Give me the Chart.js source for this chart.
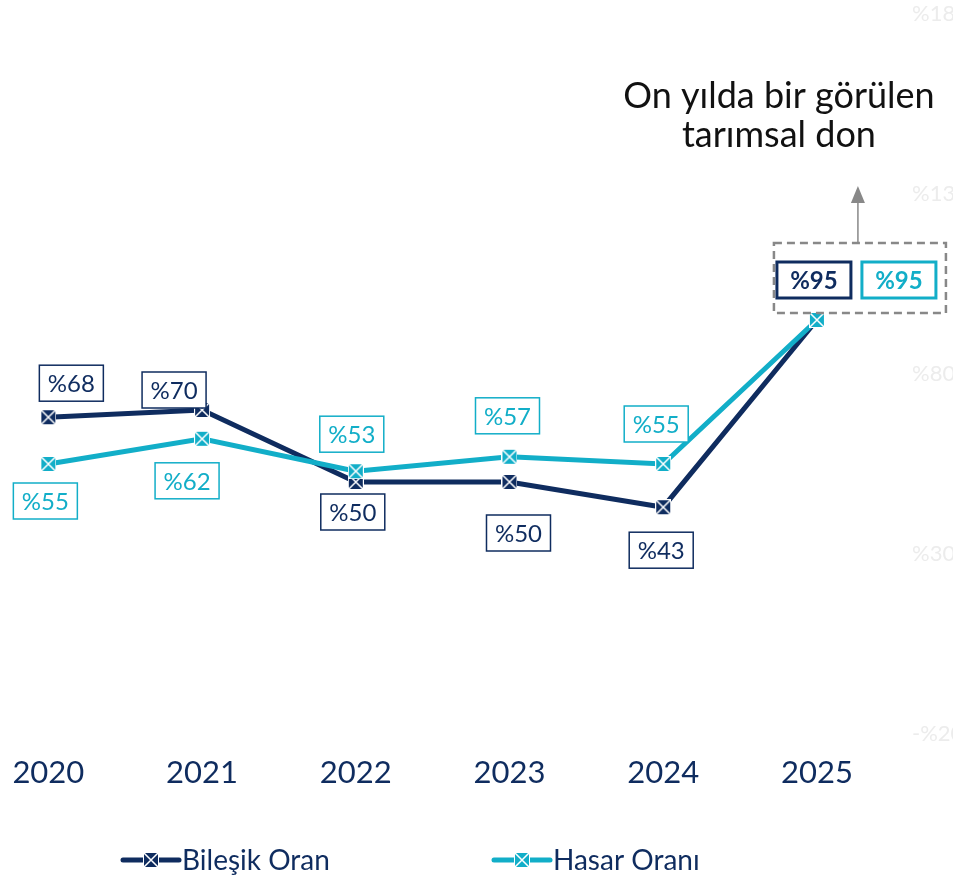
<!DOCTYPE html>
<html>
<head>
<meta charset="utf-8">
<script src="https://cdn.jsdelivr.net/npm/chart.js@4.4.1/dist/chart.umd.min.js"></script>
<style>
  html, body { margin: 0; padding: 0; background: #fff; }
</style>
</head>
<body>
<canvas id="chart" width="953" height="877"></canvas>
<script>
const years = [2020, 2021, 2022, 2023, 2024, 2025];
const bilesikOran = [68, 70, 50, 50, 43, 95];
const hasarOrani = [55, 62, 53, 57, 55, 95];
const yTicks = [-20, 30, 80, 130, 180];
const noteLines = ["On yılda bir görülen", "tarımsal don"];
const seriesNames = ["Bileşik Oran", "Hasar Oranı"];

const NAVY = "#0f2c5f";
const CYAN = "#12aec8";
const FONT = "Lato, 'Noto Sans', sans-serif";

// where each value box sits, relative to its point (px)
const navyOffsets = [[23, -34], [-28, -20], [-3, 30], [9, 51], [-2, 43], [-3, -40]];
const cyanOffsets = [[-3, 37], [-15, 42], [-4, -37], [-2, -41], [-7, -40], [82, -40]];

function marker(color) {
  const c = document.createElement("canvas");
  c.width = 16; c.height = 16;
  const g = c.getContext("2d");
  g.fillStyle = color;
  g.fillRect(0, 0, 16, 16);
  g.strokeStyle = "#fff";
  g.lineWidth = 1;
  g.strokeRect(0.5, 0.5, 15, 15);
  g.lineWidth = 1.5;
  g.beginPath();
  g.moveTo(1, 1); g.lineTo(15, 15);
  g.moveTo(15, 1); g.lineTo(1, 15);
  g.stroke();
  return c;
}

const navyMarker = marker(NAVY);
const cyanMarker = marker(CYAN);

// value boxes
const boxLabels = {
  id: "boxLabels",
  afterDatasetsDraw(chart) {
    const ctx = chart.ctx;
    ctx.save();
    chart.data.datasets.forEach((ds, i) => {
      const meta = chart.getDatasetMeta(i);
      meta.data.forEach((pt, j) => {
        const off = ds.labelOffsets[j];
        const last = j === ds.data.length - 1;
        const cx = pt.x + off[0];
        const cy = pt.y + off[1];
        const w = last ? 74 : 64;
        const h = 36;
        ctx.fillStyle = "#fff";
        ctx.fillRect(cx - w / 2, cy - h / 2, w, h);
        ctx.strokeStyle = ds.borderColor;
        ctx.lineWidth = last ? 3 : 1.5;
        ctx.strokeRect(cx - w / 2, cy - h / 2, w, h);
        ctx.fillStyle = ds.borderColor;
        ctx.font = (last ? "bold " : "") + "24px " + FONT;
        ctx.textAlign = "center";
        ctx.textBaseline = "middle";
        ctx.fillText("%" + ds.data[j].y, cx, cy + 1);
      });
    });
    ctx.restore();
  }
};

// dashed box, arrow and note over 2025
const note = {
  id: "note",
  afterDraw(chart) {
    const ctx = chart.ctx;
    const pt = chart.getDatasetMeta(0).data[years.length - 1];
    ctx.save();
    ctx.strokeStyle = "#888";
    ctx.lineWidth = 2.5;
    ctx.setLineDash([8, 5]);
    ctx.strokeRect(pt.x - 43, pt.y - 77, 172, 70);
    ctx.setLineDash([]);
    const ax = pt.x + 41;
    ctx.lineWidth = 1.5;
    ctx.beginPath();
    ctx.moveTo(ax, pt.y - 77);
    ctx.lineTo(ax, pt.y - 118);
    ctx.stroke();
    ctx.fillStyle = "#888";
    ctx.beginPath();
    ctx.moveTo(ax, pt.y - 134);
    ctx.lineTo(ax - 7, pt.y - 117);
    ctx.lineTo(ax + 7, pt.y - 117);
    ctx.closePath();
    ctx.fill();
    ctx.fillStyle = "#111";
    ctx.font = "36px " + FONT;
    ctx.textAlign = "center";
    ctx.textBaseline = "middle";
    ctx.fillText(noteLines[0], pt.x - 38, 96);
    ctx.fillText(noteLines[1], pt.x - 38, 135);
    ctx.restore();
  }
};

// legend at the bottom
const legendBar = {
  id: "legendBar",
  afterDraw(chart) {
    const ctx = chart.ctx;
    const items = [
      { x: 123, color: NAVY, img: navyMarker, text: seriesNames[0] },
      { x: 494, color: CYAN, img: cyanMarker, text: seriesNames[1] }
    ];
    const y = 860;
    ctx.save();
    items.forEach(it => {
      ctx.strokeStyle = it.color;
      ctx.lineWidth = 5;
      ctx.lineCap = "round";
      ctx.beginPath();
      ctx.moveTo(it.x, y);
      ctx.lineTo(it.x + 56, y);
      ctx.stroke();
      ctx.drawImage(it.img, it.x + 20, y - 8);
      ctx.fillStyle = NAVY;
      ctx.font = "28px " + FONT;
      ctx.textAlign = "left";
      ctx.textBaseline = "middle";
      ctx.fillText(it.text, it.x + 59, y + 1);
    });
    ctx.restore();
  }
};

new Chart(document.getElementById("chart"), {
  type: "line",
  data: {
    datasets: [
      {
        label: seriesNames[0],
        data: bilesikOran,
        borderColor: NAVY,
        pointStyle: navyMarker,
        labelOffsets: navyOffsets,
        order: 2
      },
      {
        label: seriesNames[1],
        data: hasarOrani,
        borderColor: CYAN,
        pointStyle: cyanMarker,
        labelOffsets: cyanOffsets,
        order: 1
      }
    ].map(ds => Object.assign(ds, {
      data: ds.data.map((v, i) => ({ x: years[i], y: v })),
      borderWidth: 5,
      tension: 0,
      pointRadius: 8,
      fill: false
    }))
  },
  options: {
    responsive: false,
    animation: false,
    layout: { padding: { top: 14, bottom: 65, left: 0, right: 0 } },
    plugins: { legend: { display: false }, tooltip: { enabled: false } },
    scales: {
      x: {
        type: "linear",
        min: 2019.77,
        max: 2025.573,
        grid: { display: false, drawTicks: false },
        border: { display: false },
        afterBuildTicks: s => { s.ticks = years.map(v => ({ value: v })); },
        ticks: {
          color: NAVY,
          font: { family: FONT, size: 31, lineHeight: 2.0 },
          padding: 8,
          maxRotation: 0,
          autoSkip: false,
          callback: v => String(v)
        }
      },
      y: {
        position: "right",
        min: -20,
        max: 180,
        grid: { display: false, drawTicks: false },
        border: { display: false },
        afterBuildTicks: s => { s.ticks = yTicks.map(v => ({ value: v })); },
        afterFit: s => { s.width = 48; s.paddingTop = 0; s.paddingBottom = 0; },
        ticks: {
          color: "#ececec",
          font: { family: FONT, size: 22 },
          padding: 7,
          callback: v => (v < 0 ? "-%" : "%") + Math.abs(v)
        }
      }
    }
  },
  plugins: [boxLabels, note, legendBar]
});
</script>
</body>
</html>
